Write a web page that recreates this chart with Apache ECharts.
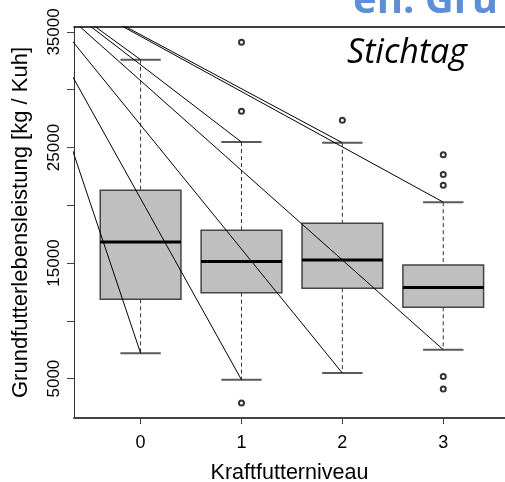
<!DOCTYPE html>
<html>
<head>
<meta charset="utf-8">
<script src="https://cdn.jsdelivr.net/npm/echarts@6.0.0/dist/echarts.min.js"></script>
<style>
  html, body { margin: 0; padding: 0; background: #fff; }
  #chart { width: 505px; height: 482px; }
</style>
</head>
<body>
<div id="chart"></div>
<script>
    // Kraftfutterniveau (x)
    let levels = [0, 1, 2, 3];
    // Boxplot-Kennwerte je Niveau
    let whiskerLow = [7200, 4900, 5480, 7500];
    let q1 = [11860, 12440, 12820, 11170];
    let median = [16830, 15130, 15270, 12880];
    let q3 = [21310, 17840, 18450, 14830];
    let whiskerHigh = [32600, 25470, 25410, 20270];
    // Ausreisser [Niveau, Wert]
    let outliers = [
        [1, 34100], [1, 28130], [1, 2890],
        [2, 27370],
        [3, 24370], [3, 22670], [3, 21740], [3, 5190], [3, 4090]
    ];
    // gemeinsamer Ausgangspunkt der Geraden
    let lineOrigin = [-1.29, 40800];
    // Achsen
    let yTicks = [5000, 10000, 15000, 20000, 25000, 30000, 35000];
    let yLabels = [5000, 15000, 25000, 35000];

    let chart = echarts.init(document.getElementById('chart'));

    let boxData = levels.map((l, i) => [l, whiskerLow[i], q1[i], median[i], q3[i], whiskerHigh[i]]);

    // Geraden vom Ausgangspunkt zu den Whisker-Enden
    let lineSeries = [];
    levels.forEach((l, i) => {
        [whiskerLow[i], whiskerHigh[i]].forEach(v => {
            lineSeries.push({
                type: 'line',
                data: [lineOrigin, [l, v]],
                showSymbol: false,
                silent: true,
                clip: true,
                lineStyle: { color: '#000', width: 1 },
                z: 4
            });
        });
    });

    function renderBox(params, api) {
        let x = api.value(0);
        let pLow = api.coord([x, api.value(1)]);
        let pQ1 = api.coord([x, api.value(2)]);
        let pMed = api.coord([x, api.value(3)]);
        let pQ3 = api.coord([x, api.value(4)]);
        let pHigh = api.coord([x, api.value(5)]);
        let half = api.size([0.8, 0])[0] / 2;
        let cap = api.size([0.4, 0])[0] / 2;
        let cx = pMed[0];
        let dash = { stroke: '#333', lineWidth: 1, lineDash: [4, 3] };
        let capStyle = { stroke: '#5a5a5a', lineWidth: 2 };
        return {
            type: 'group',
            children: [
                { type: 'line', shape: { x1: cx, y1: pHigh[1], x2: cx, y2: pQ3[1] }, style: dash },
                { type: 'line', shape: { x1: cx, y1: pQ1[1], x2: cx, y2: pLow[1] }, style: dash },
                { type: 'line', shape: { x1: cx - cap, y1: pHigh[1], x2: cx + cap, y2: pHigh[1] }, style: capStyle },
                { type: 'line', shape: { x1: cx - cap, y1: pLow[1], x2: cx + cap, y2: pLow[1] }, style: capStyle },
                {
                    type: 'rect',
                    shape: { x: cx - half, y: pQ3[1], width: half * 2, height: pQ1[1] - pQ3[1] },
                    style: { fill: '#bfbfbf', stroke: '#444', lineWidth: 1.5 }
                },
                { type: 'line', shape: { x1: cx - half, y1: pMed[1], x2: cx + half, y2: pMed[1] }, style: { stroke: '#000', lineWidth: 3 } }
            ]
        };
    }

    let option = {
        animation: false,
        grid: { left: 74, top: 27, right: 0, bottom: 64, outerBoundsMode: 'none' },
        xAxis: [{
            type: 'value',
            min: -0.66,
            max: 3.612,
            name: 'Kraftfutterniveau',
            nameLocation: 'middle',
            nameGap: 44,
            nameTextStyle: { fontFamily: 'Liberation Sans', fontSize: 21.5, color: '#000' },
            splitLine: { show: false },
            axisLine: { onZero: false, lineStyle: { color: '#444', width: 2 } },
            axisTick: { customValues: levels, length: 6, lineStyle: { color: '#444' } },
            axisLabel: { customValues: levels, margin: 16, fontFamily: 'Liberation Sans', fontSize: 18, color: '#000' }
        }, {
            type: 'value',
            position: 'top',
            min: -0.66,
            max: 3.612,
            splitLine: { show: false },
            axisLine: { show: true, onZero: false, lineStyle: { color: '#000', width: 1.5 } },
            axisTick: { show: false },
            axisLabel: { show: false }
        }],
        yAxis: {
            type: 'value',
            min: 1590,
            max: 35430,
            name: 'Grundfutterlebensleistung [kg / Kuh]',
            nameLocation: 'middle',
            nameGap: 42,
            nameTextStyle: { fontFamily: 'Liberation Sans', fontSize: 22, color: '#000' },
            splitLine: { show: false },
            axisLine: { show: true, onZero: false, lineStyle: { color: '#333', width: 1 } },
            axisTick: { customValues: yTicks, length: 7, lineStyle: { color: '#444' } },
            axisLabel: {
                customValues: yLabels, rotate: 90, margin: 11,
                formatter: v => String(v),
                fontFamily: 'Liberation Sans', fontSize: 17, color: '#000'
            }
        },
        graphic: [
            {
                type: 'text', left: 353, top: -18, silent: true,
                style: { text: 'en. Gru', font: 'bold 40px "Open Sans"', fill: '#5b8fd6' }
            },
            {
                type: 'text', left: 347, top: 36, silent: true,
                style: { text: 'Stichtag', font: 'italic 34px "Open Sans"', fill: '#000' }
            }
        ],
        series: [
            {
                type: 'custom',
                renderItem: renderBox,
                data: boxData,
                encode: { x: 0, y: [1, 2, 3, 4, 5] },
                silent: true,
                z: 2
            },
            {
                type: 'scatter',
                data: outliers,
                symbol: 'emptyCircle',
                symbolSize: 5,
                itemStyle: { color: '#000', borderColor: '#000', borderWidth: 0.8 },
                silent: true,
                z: 5
            }
        ].concat(lineSeries)
    };

    chart.setOption(option);
</script>
</body>
</html>
